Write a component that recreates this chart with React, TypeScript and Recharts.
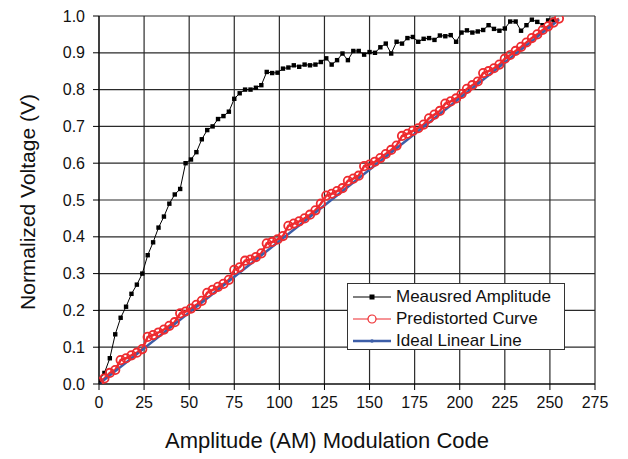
import { LineChart, Line, XAxis, YAxis, CartesianGrid } from 'recharts';

// codes for measured / predistorted samples (step 3)
const codes = [
  0, 3, 6, 9, 12, 15, 18, 21, 24, 27, 30, 33, 36, 39, 42, 45, 48, 51, 54, 57,
  60, 63, 66, 69, 72, 75, 78, 81, 84, 87, 90, 93, 96, 99, 102, 105, 108, 111, 114, 117,
  120, 123, 126, 129, 132, 135, 138, 141, 144, 147, 150, 153, 156, 159, 162, 165, 168, 171, 174, 177,
  180, 183, 186, 189, 192, 195, 198, 201, 204, 207, 210, 213, 216, 219, 222, 225, 228, 231, 234, 237,
  240, 243, 246, 249, 252, 255,
];

const measured = [
  0.01, 0.03, 0.07, 0.135, 0.18, 0.21, 0.245, 0.27, 0.3, 0.35, 0.385, 0.425, 0.455, 0.49, 0.515, 0.53, 0.6, 0.61, 0.63, 0.665,
  0.69, 0.7, 0.72, 0.728, 0.74, 0.775, 0.79, 0.8, 0.8, 0.805, 0.812, 0.848, 0.845, 0.846, 0.857, 0.86, 0.866, 0.862, 0.868, 0.866,
  0.868, 0.875, 0.885, 0.868, 0.88, 0.898, 0.88, 0.905, 0.905, 0.895, 0.902, 0.9, 0.915, 0.925, 0.898, 0.93, 0.925, 0.94, 0.943, 0.93,
  0.938, 0.94, 0.935, 0.947, 0.945, 0.948, 0.93, 0.955, 0.961, 0.955, 0.958, 0.962, 0.975, 0.965, 0.96, 0.966, 0.985, 0.985, 0.96, 0.975,
  0.99, 0.984, 0.975, 0.988, 0.99,
];

const predistorted = [
  0.005, 0.015, 0.03, 0.038, 0.065, 0.07, 0.078, 0.085, 0.095, 0.128, 0.133, 0.14, 0.148, 0.158, 0.168, 0.192, 0.197, 0.205, 0.215, 0.226,
  0.248, 0.256, 0.264, 0.272, 0.283, 0.31, 0.317, 0.335, 0.338, 0.345, 0.355, 0.382, 0.386, 0.393, 0.402, 0.43, 0.436, 0.442, 0.45, 0.46,
  0.472, 0.49, 0.512, 0.517, 0.524, 0.532, 0.552, 0.558, 0.566, 0.592, 0.596, 0.604, 0.614, 0.625, 0.636, 0.648, 0.674, 0.68, 0.688, 0.695,
  0.705, 0.722, 0.732, 0.742, 0.762, 0.768, 0.776, 0.788, 0.802, 0.812, 0.822, 0.845, 0.85, 0.858, 0.868, 0.884, 0.894, 0.905, 0.916, 0.928,
  0.94, 0.95, 0.962, 0.972, 0.982, 0.993,
];

const idealCodes = [0, 255];
const idealValues = [0, 0.99];

const xTicks = [0, 25, 50, 75, 100, 125, 150, 175, 200, 225, 250, 275];
const xMinor = [12.5, 37.5, 62.5, 87.5, 112.5, 137.5, 162.5, 187.5, 212.5, 237.5, 262.5];
const yTicks = [0, 0.1, 0.2, 0.3, 0.4, 0.5, 0.6, 0.7, 0.8, 0.9, 1.0];
const yMinor = [0.05, 0.15, 0.25, 0.35, 0.45, 0.55, 0.65, 0.75, 0.85, 0.95];

const measuredData = measured.map((v, i) => ({ x: codes[i], y: v }));
const predistData = codes.map((c, i) => ({ x: c, y: predistorted[i] }));
const idealData = idealCodes.map((c, i) => ({ x: c, y: idealValues[i] }));

const RED = '#ee2b2f';
const BLUE = '#3d5ea8';
const FONT = 'Arial, "Liberation Sans", sans-serif';

const Square = (p: any) => (
  <rect key={p.key} x={p.cx - 2.2} y={p.cy - 2.2} width={4.4} height={4.4} fill="#000" />
);

const tickStyle = { fontSize: 16, fill: '#111', fontFamily: FONT };

export default function App() {
  return (
    <div style={{ position: 'absolute', left: 0, top: 0, width: 628, height: 459, background: '#fff', fontFamily: FONT }}>
      <LineChart width={628} height={459} margin={{ top: 16, right: 33, bottom: 45, left: 39 }}>
        <CartesianGrid stroke="#2a2a2a" strokeWidth={1.2} horizontalValues={yTicks} verticalValues={xTicks} />
        <XAxis type="number" dataKey="x" domain={[0, 275]} ticks={xTicks} interval={0} height={30}
          tickSize={6} tickMargin={7} stroke="#000" tick={tickStyle} allowDataOverflow />
        <XAxis xAxisId="m" type="number" dataKey="x" domain={[0, 275]} ticks={xMinor} interval={0} height={0}
          tickSize={4} tickFormatter={() => ''} axisLine={false} stroke="#000" allowDataOverflow />
        <YAxis type="number" dataKey="y" domain={[0, 1]} ticks={yTicks} interval={0} width={60}
          tickSize={6} tickMargin={8} stroke="#000" tick={tickStyle} tickFormatter={(v) => v.toFixed(1)} allowDataOverflow />
        <YAxis yAxisId="m" type="number" dataKey="y" domain={[0, 1]} ticks={yMinor} interval={0} width={0}
          tickSize={4} tickFormatter={() => ''} axisLine={false} stroke="#000" allowDataOverflow />
        <Line data={measuredData} dataKey="y" stroke="#000" strokeWidth={1} dot={Square} isAnimationActive={false} />
        <Line data={predistData} dataKey="y" stroke={RED} strokeWidth={2.5}
          dot={{ r: 4.2, fill: 'none', stroke: RED, strokeWidth: 1.8 }} isAnimationActive={false} />
        <Line data={idealData} dataKey="y" stroke={BLUE} strokeWidth={2.5} dot={false} isAnimationActive={false} />
      </LineChart>

      <div style={{ position: 'absolute', left: 8, top: 92, width: 40, height: 220, display: 'flex', alignItems: 'center', justifyContent: 'center' }}>
        <div style={{ transform: 'rotate(-90deg)', whiteSpace: 'nowrap', fontSize: 21, color: '#111' }}>Normalized Voltage (V)</div>
      </div>
      <div style={{ position: 'absolute', left: 79, width: 496, top: 428, textAlign: 'center', fontSize: 22, color: '#111', whiteSpace: 'nowrap' }}>
        Amplitude (AM) Modulation Code
      </div>

      <div style={{ position: 'absolute', left: 347, top: 283, width: 216, height: 65, border: '1px solid #333', background: '#fff', boxSizing: 'content-box', fontSize: 17, color: '#111' }}>
        {[
          { label: 'Meausred Amplitude', color: '#000', mark: 'sq' },
          { label: 'Predistorted Curve', color: RED, mark: 'ci' },
          { label: 'Ideal Linear Line', color: BLUE, mark: 'dot' },
        ].map((r, i) => (
          <div key={i} style={{ position: 'absolute', left: 4, top: 2 + i * 22, height: 22, display: 'flex', alignItems: 'center' }}>
            <svg width={40} height={22} style={{ marginRight: 4 }}>
              <line x1={1} y1={11} x2={39} y2={11} stroke={r.color} strokeWidth={r.mark === 'dot' ? 2.5 : 1.2} />
              {r.mark === 'sq' && <rect x={17.5} y={8.5} width={5} height={5} fill="#000" />}
              {r.mark === 'ci' && <circle cx={20} cy={11} r={4} fill="#fff" stroke={RED} strokeWidth={1.2} />}
              {r.mark === 'dot' && <circle cx={20} cy={11} r={1.8} fill={BLUE} />}
            </svg>
            <span style={{ whiteSpace: 'nowrap' }}>{r.label}</span>
          </div>
        ))}
      </div>
    </div>
  );
}
